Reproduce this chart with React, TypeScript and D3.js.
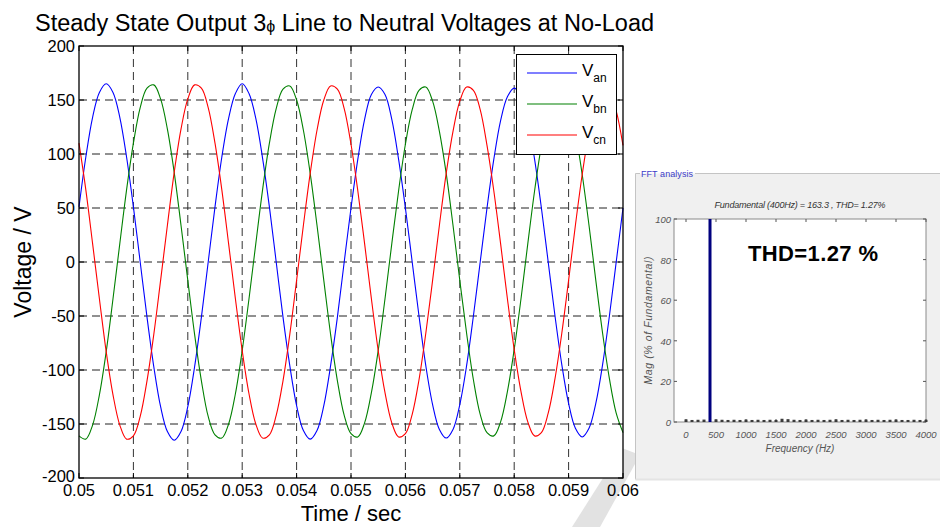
import React from "react";
import * as d3 from "d3";

// ---------- data ----------
const T_START = 0.05;
const T_STEP = 0.000125;
const VAN = [
  51, 97, 134, 157, 165, 157, 134, 97, 51, 0, -51, -97, -134, -157, -165, -157, -134, -97, -51, 0,
  51, 97, 133, 156, 165, 156, 133, 96, 51, 0, -51, -96, -133, -156, -164, -156, -133, -96, -51, 0,
  50, 95, 132, 155, 162, 155, 132, 95, 50, 0, -50, -96, -132, -155, -163, -155, -132, -96, -50, 0,
  50, 95, 131, 153, 161, 153, 131, 95, 50, 0, -50, -95, -131, -154, -162, -154, -131, -95, -50, 0,
  50,
];
const VBN = [
  -161, -164, -151, -123, -83, -34, 17, 67, 110, 143, 161, 164, 151, 123, 83, 34, -17, -67, -110, -143,
  -160, -163, -150, -122, -82, -34, 17, 67, 110, 142, 160, 163, 150, 122, 82, 34, -17, -67, -110, -142,
  -159, -162, -149, -121, -82, -34, 17, 66, 109, 141, 159, 162, 149, 121, 82, 34, -17, -66, -109, -141,
  -158, -161, -148, -120, -81, -34, 17, 66, 108, 140, 158, 161, 148, 120, 81, 34, -17, -66, -108, -140,
  -158,
];
const VCN = [
  110, 67, 17, -34, -83, -123, -151, -164, -161, -143, -110, -67, -17, 34, 83, 123, 151, 164, 161, 143,
  110, 67, 17, -34, -82, -122, -150, -163, -160, -142, -110, -67, -17, 34, 82, 122, 150, 163, 160, 142,
  109, 66, 17, -34, -82, -121, -149, -162, -159, -141, -109, -66, -17, 34, 82, 121, 149, 162, 159, 141,
  108, 66, 17, -34, -81, -120, -148, -161, -158, -140, -108, -66, -17, 34, 81, 120, 148, 161, 158, 140,
  108,
];
const SERIES = [
  { name: "an", values: VAN, color: "#0000ff" },
  { name: "bn", values: VBN, color: "#008000" },
  { name: "cn", values: VCN, color: "#ff0000" },
];
const X_TICKS = [0.05, 0.051, 0.052, 0.053, 0.054, 0.055, 0.056, 0.057, 0.058, 0.059, 0.06];
const Y_TICKS = [-200, -150, -100, -50, 0, 50, 100, 150, 200];

// FFT inset
const FFT_FUND_FREQ = 400;
const FFT_FUND_MAG = 100;
const HARM_FREQS = [
  0, 100, 200, 300, 500, 600, 700, 800, 900, 1000, 1100, 1200, 1300, 1400, 1500, 1600, 1700, 1800, 1900, 2000,
  2100, 2200, 2300, 2400, 2500, 2600, 2700, 2800, 2900, 3000, 3100, 3200, 3300, 3400, 3500, 3600, 3700, 3800, 3900, 4000,
];
const HARM_MAGS = [
  1.3, 1.0, 1.1, 1.2, 1.3, 1.1, 1.0, 1.1, 1.0, 1.2, 1.0, 1.1, 1.0, 1.1, 1.0, 1.6, 1.4, 1.1, 1.0, 1.2,
  1.0, 1.1, 1.0, 1.1, 1.3, 1.0, 1.1, 1.0, 1.1, 1.2, 1.0, 1.1, 1.0, 1.1, 1.2, 1.0, 1.0, 1.1, 1.0, 1.1,
];
const FFT_X_TICKS = [0, 500, 1000, 1500, 2000, 2500, 3000, 3500, 4000];
const FFT_Y_TICKS = [0, 20, 40, 60, 80, 100];

const FONT = "'Liberation Sans', Arial, Helvetica, sans-serif";

export default function App() {
  const W = 940, H = 527;
  const x = d3.scaleLinear().domain([0.05, 0.06]).range([79, 623]);
  const y = d3.scaleLinear().domain([-200, 200]).range([478, 46]);
  const time = VAN.map((_, i) => T_START + i * T_STEP);

  const line = d3
    .line<number>()
    .x((_, i) => x(time[i]))
    .y((d) => y(d))
    .curve(d3.curveCatmullRom.alpha(0.5));

  const [x0, x1] = x.range();
  const [y0, y1] = y.range(); // y0 bottom, y1 top

  const fx = d3.scaleLinear().domain([-200, 4000]).range([674, 926]);
  const fy = d3.scaleLinear().domain([0, 100]).range([422, 219]);

  return (
    <svg
      width={W}
      height={H}
      viewBox={`0 0 ${W} ${H}`}
      style={{ position: "absolute", left: 0, top: 0, background: "#fff" }}
      fontFamily={FONT}
    >
      <rect x={0} y={0} width={W} height={H} fill="#fff" />
      {/* watermark band */}
      <polygon points="572,527 600,527 640,455 622,448" fill="#e2e2e2" />

      {/* title */}
      <text x={35} y={31} fontSize={23.5} fill="#000">
        Steady State Output 3<tspan fontSize={16} dy={1}>ϕ</tspan>
        <tspan dy={-1}> Line to Neutral Voltages at No-Load</tspan>
      </text>

      {/* plot background */}
      <rect x={x0} y={y1} width={x1 - x0} height={y0 - y1} fill="#fff" />

      {/* grid */}
      {X_TICKS.slice(1, -1).map((t) => (
        <line key={"gx" + t} x1={x(t)} x2={x(t)} y1={y1} y2={y0} stroke="#333" strokeDasharray="8,5" />
      ))}
      {Y_TICKS.slice(1, -1).map((v) => (
        <line key={"gy" + v} x1={x0} x2={x1} y1={y(v)} y2={y(v)} stroke="#222" strokeDasharray="8,5" />
      ))}

      {/* series */}
      {SERIES.map((s) => (
        <path key={s.name} d={line(s.values) || ""} fill="none" stroke={s.color} strokeWidth={1.1} />
      ))}

      {/* frame */}
      <rect x={x0} y={y1} width={x1 - x0} height={y0 - y1} fill="none" stroke="#000" strokeWidth={1.3} />
      {X_TICKS.map((t) => (
        <g key={"tx" + t}>
          <line x1={x(t)} x2={x(t)} y1={y0} y2={y0 - 5} stroke="#000" />
          <line x1={x(t)} x2={x(t)} y1={y1} y2={y1 + 5} stroke="#000" />
          <text x={x(t)} y={496} fontSize={16.5} textAnchor="middle" fill="#000">
            {String(t)}
          </text>
        </g>
      ))}
      {Y_TICKS.map((v) => (
        <g key={"ty" + v}>
          <line x1={x0} x2={x0 + 5} y1={y(v)} y2={y(v)} stroke="#000" />
          <line x1={x1} x2={x1 - 5} y1={y(v)} y2={y(v)} stroke="#000" />
          <text x={75} y={y(v) + (v === -200 ? 4 : 6)} fontSize={16.5} textAnchor="end" fill="#000">
            {String(v)}
          </text>
        </g>
      ))}

      {/* axis labels */}
      <text x={(x0 + x1) / 2} y={521} fontSize={22} textAnchor="middle" fill="#000">
        Time / sec
      </text>
      <text transform={`translate(31,${(y0 + y1) / 2}) rotate(-90)`} fontSize={23} textAnchor="middle" fill="#000">
        Voltage / V
      </text>

      {/* legend */}
      <rect x={516.5} y={54.5} width={100} height={100} fill="#fff" stroke="#000" strokeWidth={1} />
      {SERIES.map((s, i) => {
        const ly = 73 + i * 31;
        return (
          <g key={"lg" + s.name}>
            <line x1={527} x2={577} y1={ly} y2={ly} stroke={s.color} strokeWidth={1.1} />
            <text x={582} y={ly + 3} fontSize={17} fill="#000">
              V<tspan fontSize={12} dy={6}>{s.name}</tspan>
            </text>
          </g>
        );
      })}

      {/* FFT panel */}
      <rect x={635.5} y={173.5} width={320} height={306} fill="#f0f0f0" />
      <line x1={635.5} x2={635.5} y1={173.5} y2={479.5} stroke="#c4c4c4" />
      <line x1={635.5} x2={955} y1={479.5} y2={479.5} stroke="#e4e4e4" strokeWidth={2} />
      <line x1={635.5} x2={640} y1={173.5} y2={173.5} stroke="#c4c4c4" />
      <line x1={695} x2={955} y1={173.5} y2={173.5} stroke="#c4c4c4" />
      <text x={641} y={176.5} fontSize={9} fill="#3c3cc8" textLength={52}>
        FFT analysis
      </text>
      <text x={800} y={208} fontSize={9} fontStyle="italic" fill="#333" textAnchor="middle" textLength={171}>
        Fundamental (400Hz) = 163.3 , THD= 1.27%
      </text>
      <rect x={674} y={219} width={252} height={203} fill="#fff" stroke="#8a8a8a" />
      {FFT_X_TICKS.map((f) => (
        <g key={"fxt" + f}>
          <line x1={fx(f)} x2={fx(f)} y1={219} y2={222} stroke="#555" />
          <line x1={fx(f)} x2={fx(f)} y1={422} y2={419} stroke="#555" />
          <text x={fx(f)} y={438} fontSize={9.5} fontStyle="italic" fill="#555" textAnchor="middle">
            {String(f)}
          </text>
        </g>
      ))}
      {FFT_Y_TICKS.map((v) => (
        <g key={"fyt" + v}>
          <line x1={674} x2={677} y1={fy(v)} y2={fy(v)} stroke="#555" />
          <line x1={926} x2={923} y1={fy(v)} y2={fy(v)} stroke="#555" />
          <text x={671} y={fy(v) + 4} fontSize={9.5} fontStyle="italic" fill="#555" textAnchor="end">
            {String(v)}
          </text>
        </g>
      ))}
      {HARM_FREQS.map((f, i) => (
        <rect
          key={"h" + f}
          x={fx(f) - 1.5}
          y={fy(HARM_MAGS[i])}
          width={3}
          height={fy(0) - fy(HARM_MAGS[i])}
          fill="#3a3a3a"
        />
      ))}
      <rect
        x={fx(FFT_FUND_FREQ) - 1.5}
        y={fy(FFT_FUND_MAG)}
        width={3}
        height={fy(0) - fy(FFT_FUND_MAG)}
        fill="#00007f"
      />
      <text x={800} y={452} fontSize={10} fontStyle="italic" fill="#555" textAnchor="middle">
        Frequency (Hz)
      </text>
      <text
        transform={`translate(652,${(219 + 422) / 2}) rotate(-90)`}
        fontSize={10.5}
        fontStyle="italic"
        fill="#555"
        textAnchor="middle"
        textLength={128}
      >
        Mag (% of Fundamental)
      </text>
      <text x={748} y={261} fontSize={22} fontWeight="bold" fill="#000" textLength={130}>
        THD=1.27 %
      </text>
    </svg>
  );
}
